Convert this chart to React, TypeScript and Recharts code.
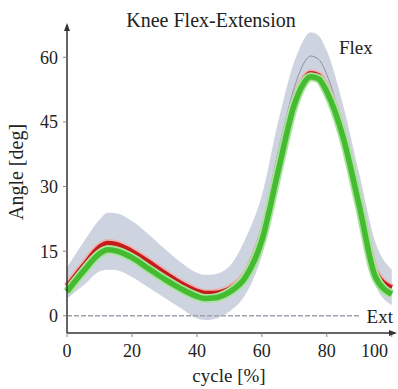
import { Area, ComposedChart, Line, ReferenceDot, ReferenceLine, XAxis, YAxis } from "recharts"

// gait cycle, percent
const cycle = [0, 5, 10, 12.5, 15, 20, 25, 30, 35, 40, 42.5, 45, 50, 55, 60, 65, 70, 72.5, 75, 77.5, 80, 85, 90, 95, 100]

// normative band (mean ± sd) and mean
const bandLow = [4.0, 7.0, 10.3, 10.7, 10.6, 9.0, 6.6, 4.2, 1.8, -0.6, -1.0, -0.8, 1.0, 5.0, 14.0, 30.0, 46.0, 52.0, 54.5, 54.0, 50.0, 38.5, 22.0, 7.0, 2.5]
const bandHigh = [11.2, 17.0, 22.3, 23.9, 23.8, 22.0, 19.0, 15.6, 12.4, 10.0, 9.5, 9.6, 11.5, 18.0, 28.0, 45.0, 59.0, 63.5, 65.8, 65.0, 61.5, 49.0, 33.0, 17.0, 10.7]
const normMean = [7.6, 12.3, 16.6, 17.3, 17.2, 15.5, 13.0, 10.2, 7.5, 5.3, 4.6, 4.6, 6.0, 11.0, 21.0, 38.0, 53.0, 58.0, 60.3, 59.5, 56.0, 43.5, 27.5, 12.0, 6.5]

// measured curves
const redCurve = [6.8, 11.6, 16.0, 16.9, 16.7, 15.0, 12.6, 10.0, 7.6, 5.8, 5.3, 5.3, 6.3, 9.6, 18.0, 34.0, 49.5, 54.3, 56.3, 55.8, 52.8, 42.0, 26.0, 10.2, 6.5]
const greenCurve = [5.6, 10.3, 14.4, 15.3, 15.1, 13.5, 11.0, 8.5, 6.3, 4.5, 4.0, 4.1, 5.5, 9.0, 17.5, 33.5, 49.0, 53.5, 55.5, 55.0, 52.0, 41.5, 25.5, 9.0, 5.0]

const xTicks = [0, 20, 40, 60, 80, 100]
const yTicks = [0, 15, 30, 45, 60]

const data = cycle.map((c, i) => ({
  cycle: c,
  band: [bandLow[i], bandHigh[i]],
  mean: normMean[i],
  red: redCurve[i],
  green: greenCurve[i],
}))

const FONT = "'Liberation Serif', 'DejaVu Serif', serif"
const INK = "#222"

function XTick({ x, y, payload }: any) {
  const last = payload.value === 100
  return (
    <text x={last ? x + 2 : x} y={y} dy="0.71em" textAnchor={last ? "end" : "middle"} fontFamily={FONT} fontSize={18} fill={INK}>
      {payload.value}
    </text>
  )
}

function RightArrow({ cx, cy }: any) {
  return <polygon points={`${cx + 2},${cy} ${cx - 6},${cy - 3} ${cx - 6},${cy + 3}`} fill="#333" />
}

function UpArrow({ cx, cy }: any) {
  return <polygon points={`${cx},${cy - 2} ${cx - 3},${cy + 6} ${cx + 3},${cy + 6}`} fill="#333" />
}

export default function App() {
  return (
    <div style={{ position: "absolute", left: 0, top: 0, width: 398, height: 389, background: "#fff" }}>
      <ComposedChart width={398} height={389} data={data} margin={{ top: 25, right: 3, left: 0, bottom: 0 }}>
        <XAxis
          dataKey="cycle"
          type="number"
          domain={[0, 101]}
          ticks={xTicks}
          height={56}
          tick={<XTick />}
          tickSize={4}
          tickMargin={7}
          axisLine={{ stroke: "#333", strokeWidth: 1.5 }}
          tickLine={{ stroke: "#888" }}
        />
        <YAxis
          type="number"
          domain={[-4, 67.5]}
          ticks={yTicks}
          width={67}
          tickSize={4}
          tickMargin={5}
          tick={{ fontFamily: FONT, fontSize: 18, fill: INK }}
          axisLine={{ stroke: "#333", strokeWidth: 1.5 }}
          tickLine={{ stroke: "#888" }}
        />
        <Area dataKey="band" type="monotone" stroke="none" fill="#cdd4df" fillOpacity={1} isAnimationActive={false} />
        <ReferenceLine
          segment={[{ x: 0, y: 0 }, { x: 90.5, y: 0 }]}
          stroke="#9ea3ad"
          strokeWidth={1.5}
          strokeDasharray="5 2"
        />
        <Line dataKey="mean" type="monotone" stroke="#8c8fa8" strokeWidth={1} dot={false} isAnimationActive={false} />
        <Line dataKey="red" type="monotone" stroke="#eeb0b0" strokeWidth={8} dot={false} isAnimationActive={false} />
        <Line dataKey="red" type="monotone" stroke="#c41b1b" strokeWidth={4.5} dot={false} isAnimationActive={false} />
        <Line dataKey="green" type="monotone" stroke="#a9e49c" strokeWidth={9} dot={false} isAnimationActive={false} />
        <Line dataKey="green" type="monotone" stroke="#45bb32" strokeWidth={5.5} dot={false} isAnimationActive={false} />
        <ReferenceDot x={101} y={-4} r={3} shape={<RightArrow />} />
        <ReferenceDot x={0} y={67.5} r={3} shape={<UpArrow />} />
      </ComposedChart>
      <svg width={398} height={389} style={{ position: "absolute", left: 0, top: 0, pointerEvents: "none" }}>
        <text x={211} y={27} textAnchor="middle" fontFamily={FONT} fontSize={20} fill={INK}>
          Knee Flex-Extension
        </text>
        <text x={339} y={54} fontFamily={FONT} fontSize={19} fill={INK}>
          Flex
        </text>
        <text x={393} y={323} textAnchor="end" fontFamily={FONT} fontSize={19} fill={INK}>
          Ext
        </text>
        <text x={229} y={382} textAnchor="middle" fontFamily={FONT} fontSize={19} fill={INK}>
          cycle [%]
        </text>
        <text transform="translate(23, 172) rotate(-90)" textAnchor="middle" fontFamily={FONT} fontSize={20} fill={INK}>
          Angle [deg]
        </text>
      </svg>
    </div>
  )
}
